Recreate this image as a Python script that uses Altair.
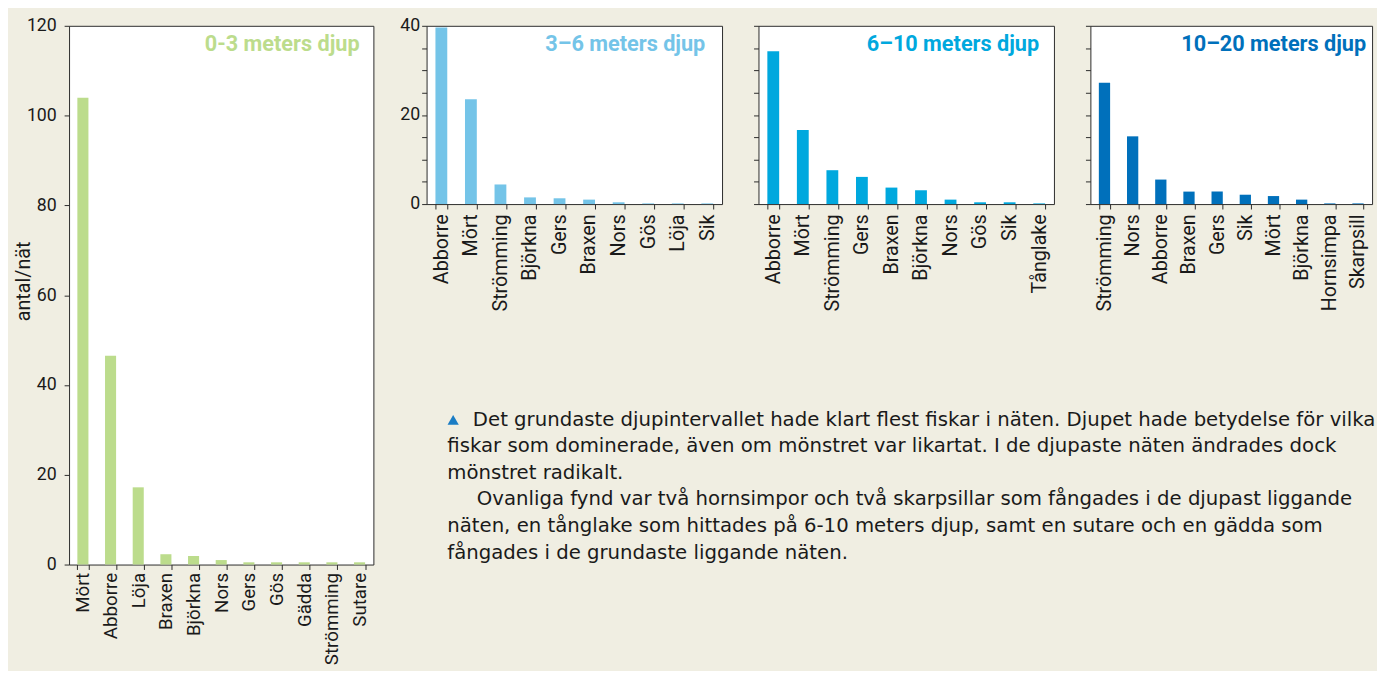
import altair as alt
import pandas as pd

# ---- data ----
cats1 = ["Mört", "Abborre", "Löja", "Braxen", "Björkna", "Nors", "Gers", "Gös", "Gädda", "Strömming", "Sutare"]
vals1 = [104.0, 46.5, 17.2, 2.3, 1.9, 1.0, 0.5, 0.5, 0.5, 0.5, 0.5]

cats2 = ["Abborre", "Mört", "Strömming", "Björkna", "Gers", "Braxen", "Nors", "Gös", "Löja", "Sik"]
vals2 = [39.6, 23.5, 4.4, 1.5, 1.3, 1.0, 0.4, 0.15, 0.15, 0.15]

cats3 = ["Abborre", "Mört", "Strömming", "Gers", "Braxen", "Björkna", "Nors", "Gös", "Sik", "Tånglake"]
vals3 = [34.3, 16.6, 7.6, 6.1, 3.7, 3.1, 1.0, 0.4, 0.4, 0.15]

cats4 = ["Strömming", "Nors", "Abborre", "Braxen", "Gers", "Sik", "Mört", "Björkna", "Hornsimpa", "Skarpsill"]
vals4 = [27.2, 15.2, 5.5, 2.8, 2.8, 2.1, 1.8, 1.0, 0.15, 0.15]

titles = ["0-3 meters djup", "3–6 meters djup", "6–10 meters djup", "10–20 meters djup"]
colors = ["#bcdc8c", "#74c4e8", "#00a8de", "#0070bb"]

y_title = "antal/nät"
ticks1 = [0, 20, 40, 60, 80, 100, 120]
ticks2 = [0, 5, 10, 15, 20, 25, 30, 35, 40]

para1_first = "Det grundaste djupintervallet hade klart flest fiskar i näten. Djupet hade betydelse för vilka"
para1_rest = [
    "fiskar som dominerade, även om mönstret var likartat. I de djupaste näten ändrades dock",
    "mönstret radikalt.",
]
para2_first = "Ovanliga fynd var två hornsimpor och två skarpsillar som fångades i de djupast liggande"
para2_rest = [
    "näten, en tånglake som hittades på 6-10 meters djup, samt en sutare och en gädda som",
    "fångades i de grundaste liggande näten.",
]

FONT = "Roboto"
TEXT_FONT = "DejaVu Sans"
INK = "#1a1a1a"
FRAME = "#2b2b2b"


def panel(cats, vals, color, title, width, height, ymax, yticks, ylabels, label_expr=None,
          ytitle=None, lab_pad=2, xfs=20, xpad=5, inset=15):
    df = pd.DataFrame({"cat": cats, "val": vals})
    yaxis_kwargs = dict(values=yticks, labels=ylabels, tickSize=5, labelPadding=lab_pad,
                        labelFontSize=18, domain=False, grid=False)
    if label_expr:
        yaxis_kwargs["labelExpr"] = label_expr
    if ytitle:
        yaxis_kwargs.update(title=ytitle, titleFontSize=20, titleFontWeight="normal",
                            titlePadding=-7, titleY=259)
    else:
        yaxis_kwargs["title"] = ""
    bars = alt.Chart(df).mark_bar(color=color).encode(
        x=alt.X("cat:N", sort=cats, scale=alt.Scale(paddingInner=0.6),
                axis=alt.Axis(title="", labelAngle=-90, tickBand="extent", tickSize=5,
                              labelPadding=xpad, labelFontSize=xfs, domain=False, grid=False)),
        y=alt.Y("val:Q", scale=alt.Scale(domain=[0, ymax], nice=False),
                axis=alt.Axis(**yaxis_kwargs)),
    )
    ttl = alt.Chart(pd.DataFrame({"t": [title]})).mark_text(
        align="right", baseline="middle", font=FONT, fontSize=22, fontWeight="bold",
        color=color,
    ).encode(x=alt.value(width - inset), y=alt.value(19), text="t:N")
    return alt.layer(bars, ttl).properties(width=width, height=height)


p1 = panel(cats1, vals1, colors[0], titles[0], 309, 547, 120, ticks1, True,
           ytitle=y_title, lab_pad=8, xfs=19, xpad=3, inset=14)
p2 = panel(cats2, vals2, colors[1], titles[1], 300, 181, 40, ticks2, True,
           label_expr="datum.value % 20 === 0 ? datum.label : ''", inset=17)
p3 = panel(cats3, vals3, colors[2], titles[2], 300, 181, 40, ticks2, False)
p4 = panel(cats4, vals4, colors[3], titles[3], 286, 181, 40, ticks2, False, inset=6)

TX0 = 21      # left edge of the paragraph lines, relative to the text view
TY0 = 108     # centre of the first line
LH = 27
text_style = dict(align="left", baseline="middle", lineBreak="\n", lineHeight=LH,
                  font=TEXT_FONT, fontSize=20, color=INK)


def tline(s, dx, row):
    return alt.Chart(pd.DataFrame({"t": [s]})).mark_text(**text_style).encode(
        x=alt.value(TX0 + dx), y=alt.value(TY0 + row * LH), text="t:N")


tri = alt.Chart(pd.DataFrame({"t": ["▲"]})).mark_point(
    shape="triangle-up", filled=True, size=130, color="#1a7cc4", opacity=1,
).encode(x=alt.value(TX0 + 6), y=alt.value(TY0))

textchart = alt.layer(
    tline(para1_first, 26, 0),
    tline("\n".join(para1_rest), 0, 1),
    tline(para2_first, 30, 3),
    tline("\n".join(para2_rest), 0, 4),
    tri,
).properties(
    width=900, height=240,
    view=alt.ViewConfig(stroke="transparent", fill="transparent"),
)

right = alt.vconcat(alt.hconcat(p2, p3, p4, spacing=25), textchart, spacing=0)
chart = alt.hconcat(p1, right, spacing=25).configure(
    background="#f0eee2", padding={"left": 5, "top": 3, "right": 0, "bottom": 0}, font=FONT,
).configure_view(
    stroke=FRAME, strokeWidth=1, fill="white",
).configure_axis(
    labelFont=FONT, titleFont=FONT, labelColor=INK, titleColor=INK, tickColor=FRAME,
    tickWidth=1,
)

chart.save("out.html", embed_options={"renderer": "svg", "actions": False})
